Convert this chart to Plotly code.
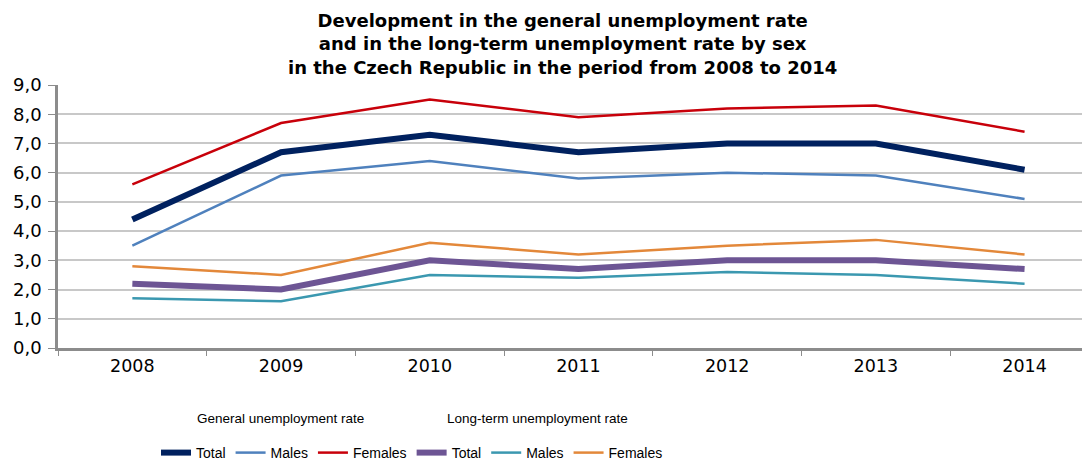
import plotly.graph_objects as go

years = ["2008", "2009", "2010", "2011", "2012", "2013", "2014"]
gen_total = [4.4, 6.7, 7.3, 6.7, 7.0, 7.0, 6.1]
gen_males = [3.5, 5.9, 6.4, 5.8, 6.0, 5.9, 5.1]
gen_females = [5.6, 7.7, 8.5, 7.9, 8.2, 8.3, 7.4]
lt_total = [2.2, 2.0, 3.0, 2.7, 3.0, 3.0, 2.7]
lt_males = [1.7, 1.6, 2.5, 2.4, 2.6, 2.5, 2.2]
lt_females = [2.8, 2.5, 3.6, 3.2, 3.5, 3.7, 3.2]

title_lines = [
    "Development in the general unemployment rate",
    "and in the long-term unemployment rate by sex",
    "in the Czech Republic in the period from 2008 to 2014",
]
group_labels = ["General unemployment rate", "Long-term unemployment rate"]

series = [
    ("Total", gen_total, "#00215f", 6),
    ("Males", gen_males, "#4f81bd", 2.5),
    ("Females", gen_females, "#c8000a", 2.5),
    ("Total", lt_total, "#6d5594", 6),
    ("Males", lt_males, "#3b98b0", 2.5),
    ("Females", lt_females, "#e3883a", 2.5),
]

# page has an 8px body margin, so the figure is drawn 8px smaller
W, H = 1082, 453
fig = go.Figure()
for name, vals, color, w in series:
    fig.add_trace(go.Scatter(x=years, y=vals, mode="lines", name=name,
                             line=dict(color=color, width=w)))

annotations = [dict(
    text="<b>" + "<br>".join(title_lines) + "</b>", xref="paper", yref="paper",
    x=(562 - 58) / 1032, y=1 + (85 - 44) / 263, xanchor="center", yanchor="middle",
    showarrow=False, align="center", borderpad=0,
    font=dict(family="DejaVu Sans", size=18, color="black"))]
for label, xc in zip(group_labels, [280, 537]):
    annotations.append(dict(
        text=label, xref="paper", yref="paper",
        x=(xc - 58) / 1032, y=-(418 - 348) / 263, xanchor="center", yanchor="middle",
        showarrow=False,
        font=dict(family="Liberation Sans", size=13.5, color="black")))

fig.update_layout(
    width=W, height=H,
    paper_bgcolor="white", plot_bgcolor="white",
    margin=dict(l=50, r=0, t=77, b=113, autoexpand=False),
    separators=",.",
    xaxis=dict(
        type="category", range=[-0.5, 6.44], showgrid=False,
        showline=True, linecolor="#8c8c8c", linewidth=2.5,
        ticks="outside", tickson="boundaries", ticklen=5, tickcolor="#8c8c8c",
        tickfont=dict(family="DejaVu Sans", size=17.5, color="black"),
    ),
    yaxis=dict(
        range=[0, 9], dtick=1, tickformat=".1f",
        showgrid=True, gridcolor="#c8c8c8", gridwidth=1.5,
        showline=True, linecolor="#8c8c8c", linewidth=2.5,
        ticks="outside", ticklen=7, tickcolor="#8c8c8c",
        tickfont=dict(family="DejaVu Sans", size=18, color="black"),
        ticklabelstandoff=3,
        zeroline=False,
    ),
    showlegend=True,
    legend=dict(
        orientation="h", xref="paper", yref="paper",
        x=(156 - 58) / 1032, xanchor="left", y=-(453 - 348) / 263, yanchor="middle",
        font=dict(family="Liberation Sans", size=14, color="black"),
        itemwidth=30, tracegroupgap=0, bgcolor="rgba(0,0,0,0)",
    ),
    annotations=annotations,
)

fig.write_html("out.html")
